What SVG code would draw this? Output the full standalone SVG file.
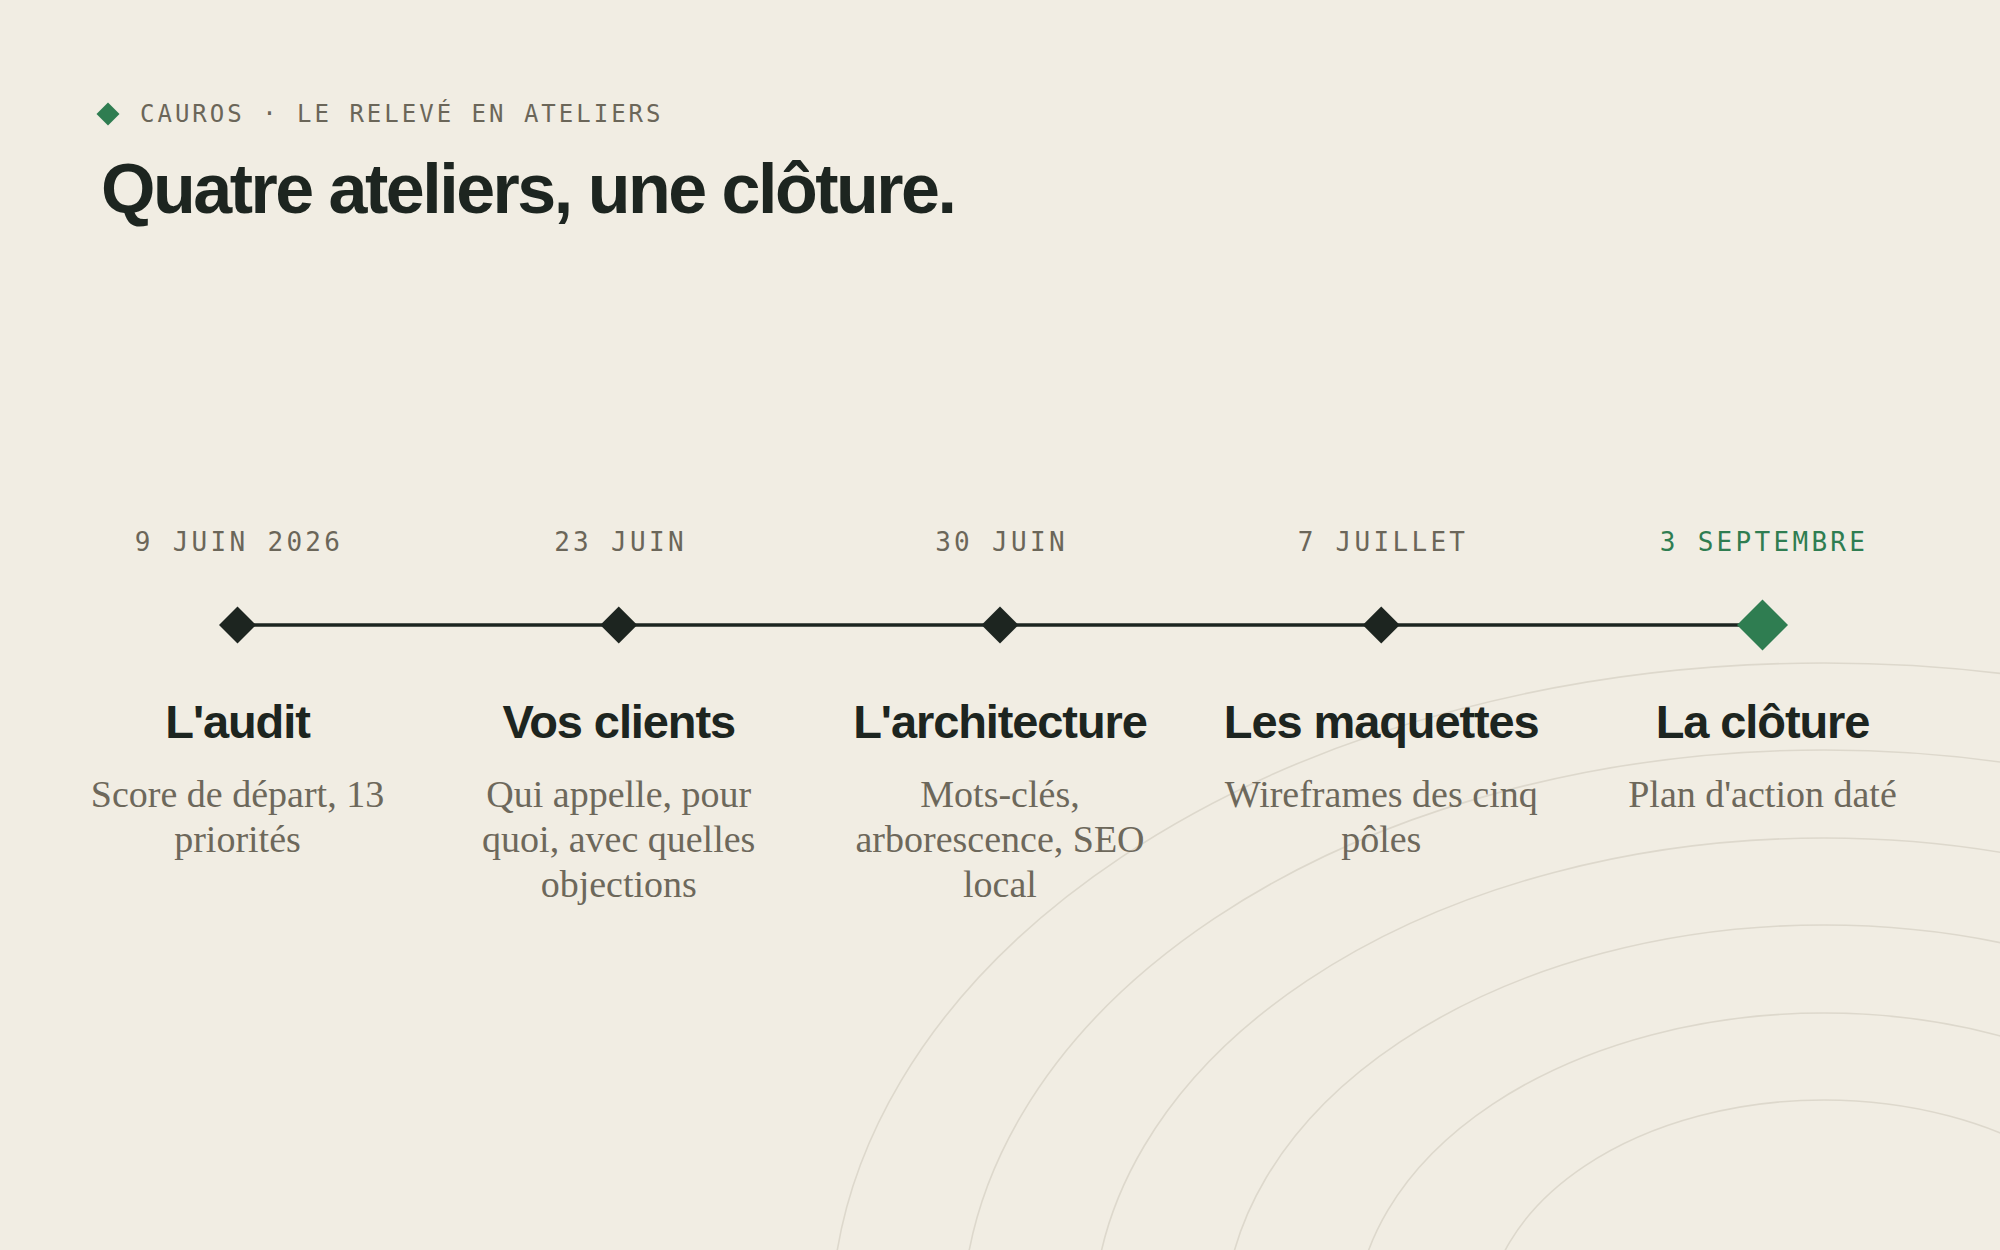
<svg xmlns="http://www.w3.org/2000/svg" width="2000" height="1250" viewBox="0 0 2000 1250">
  <style>
    .eyebrow { font-family: "DejaVu Sans Mono", "Liberation Mono", monospace; font-size: 24px; letter-spacing: 3px; fill: #6b6659; }
    .headline { font-family: "Liberation Sans", Arial, sans-serif; font-weight: 700; font-size: 70px; letter-spacing: -2.5px; fill: #1d2520; }
    .date { font-family: "DejaVu Sans Mono", "Liberation Mono", monospace; font-size: 26px; letter-spacing: 3.3px; fill: #6b6659; text-anchor: middle; }
    .date.accent { fill: #2f7d51; }
    .title { font-family: "Liberation Sans", Arial, sans-serif; font-weight: 700; font-size: 47px; letter-spacing: -1.1px; fill: #1d2520; text-anchor: middle; }
    .desc { font-family: "Liberation Serif", "Times New Roman", serif; font-size: 38px; fill: #6d685b; text-anchor: middle; }
    .arc { fill: none; stroke: #ddd8cc; stroke-width: 1.6; }
    .mark { fill: #1d2520; }
    .mark.accent { fill: #2f7d51; }
  </style>
  <rect x="0" y="0" width="2000" height="1250" fill="#f1ede3"/>

  <g id="background-arcs">
    <ellipse class="arc" cx="1824" cy="1325" rx="993" ry="662"/>
    <ellipse class="arc" cx="1824" cy="1325" rx="862" ry="575"/>
    <ellipse class="arc" cx="1824" cy="1325" rx="731" ry="487"/>
    <ellipse class="arc" cx="1824" cy="1325" rx="600" ry="400"/>
    <ellipse class="arc" cx="1824" cy="1325" rx="469" ry="312"/>
    <ellipse class="arc" cx="1824" cy="1325" rx="338" ry="225"/>
  </g>

  <g id="header">
    <path d="M108 102.5 L119.5 114 L108 125.5 L96.5 114 Z" fill="#2f7d51"/>
    <text class="eyebrow" x="140" y="122">CAUROS · LE RELEVÉ EN ATELIERS</text>
    <text class="headline" x="101" y="213">Quatre ateliers, une clôture.</text>
  </g>

  <g id="connectors">
    <line x1="237.5" y1="625" x2="1762.5" y2="625" stroke="#1d2520" stroke-width="3.5"/>
  </g>

  <g id="node-audit">
    <text class="date" x="239" y="551">9 JUIN 2026</text>
    <path class="mark" d="M237.5 606.5 L256 625 L237.5 643.5 L219 625 Z"/>
    <text class="title" x="237.5" y="738">L'audit</text>
    <text class="desc" x="237.5" y="807">Score de départ, 13</text>
    <text class="desc" x="237.5" y="852">priorités</text>
  </g>

  <g id="node-clients">
    <text class="date" x="620.5" y="551">23 JUIN</text>
    <path class="mark" d="M618.75 606.5 L637.25 625 L618.75 643.5 L600.25 625 Z"/>
    <text class="title" x="618.75" y="738">Vos clients</text>
    <text class="desc" x="618.75" y="807">Qui appelle, pour</text>
    <text class="desc" x="618.75" y="852">quoi, avec quelles</text>
    <text class="desc" x="618.75" y="897">objections</text>
  </g>

  <g id="node-architecture">
    <text class="date" x="1001.5" y="551">30 JUIN</text>
    <path class="mark" d="M1000 606.5 L1018.5 625 L1000 643.5 L981.5 625 Z"/>
    <text class="title" x="1000" y="738">L'architecture</text>
    <text class="desc" x="1000" y="807">Mots-clés,</text>
    <text class="desc" x="1000" y="852">arborescence, SEO</text>
    <text class="desc" x="1000" y="897">local</text>
  </g>

  <g id="node-maquettes">
    <text class="date" x="1383" y="551">7 JUILLET</text>
    <path class="mark" d="M1381.25 606.5 L1399.75 625 L1381.25 643.5 L1362.75 625 Z"/>
    <text class="title" x="1381.25" y="738">Les maquettes</text>
    <text class="desc" x="1381.25" y="807">Wireframes des cinq</text>
    <text class="desc" x="1381.25" y="852">pôles</text>
  </g>

  <g id="node-cloture">
    <text class="date accent" x="1764" y="551">3 SEPTEMBRE</text>
    <path class="mark accent" d="M1762.5 599.5 L1788 625 L1762.5 650.5 L1737 625 Z"/>
    <text class="title" x="1762.5" y="738">La clôture</text>
    <text class="desc" x="1762.5" y="807">Plan d'action daté</text>
  </g>
</svg>
